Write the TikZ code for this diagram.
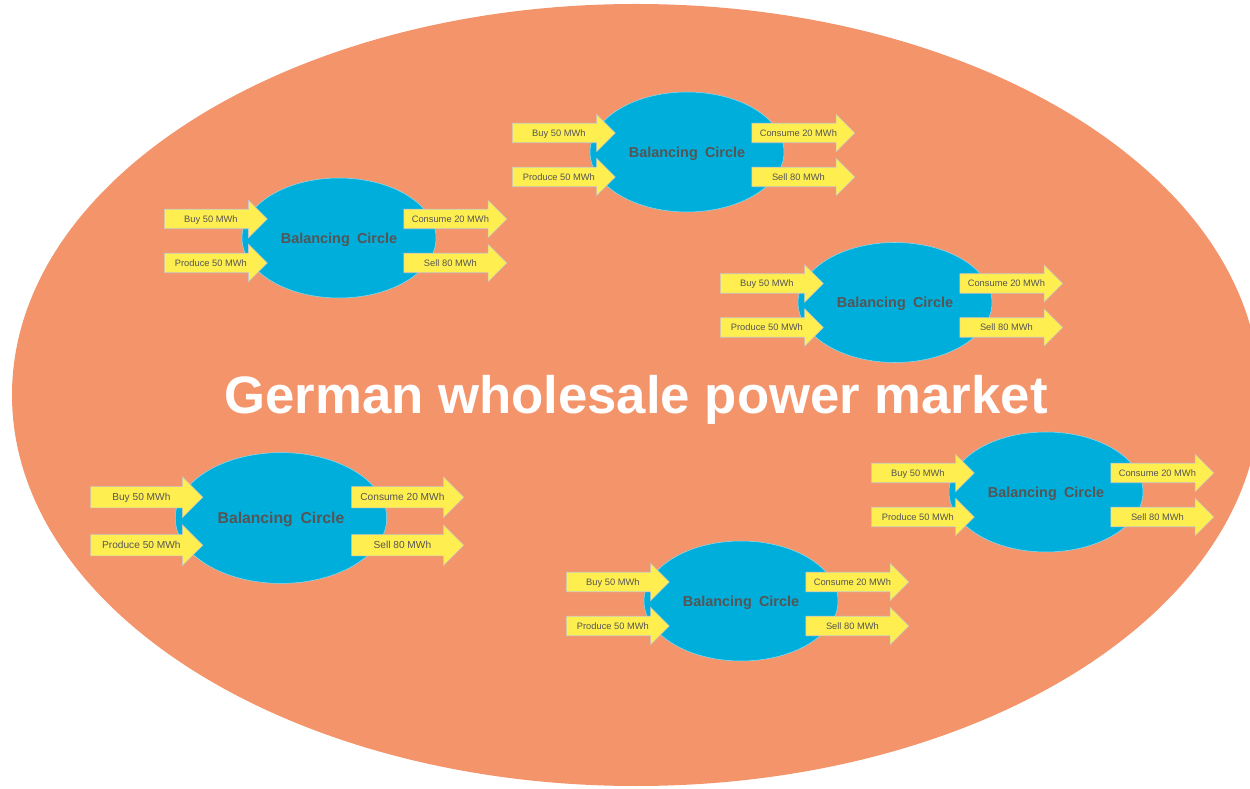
\documentclass[tikz,border=0pt]{standalone}
\usepackage{fontspec}
\setmainfont{Liberation Sans}
\newfontfamily\spacedfont[WordSpace=1.8]{Liberation Sans}
\usetikzlibrary{shapes.geometric,shapes.arrows}

\definecolor{marketOrange}{RGB}{244,148,106}
\definecolor{circleBlue}{RGB}{0,174,219}
\definecolor{flowYellow}{RGB}{255,238,80}
\definecolor{labelGray}{RGB}{85,85,85}

\begin{document}
\begin{tikzpicture}
\tikzset{
    gmMarket/.style={ellipse,fill=marketOrange,minimum width=24.96cm,minimum height=15.64cm,inner sep=0pt,text=white,font=\fontsize{30}{30}\bfseries\selectfont,text height=21.5pt,text depth=0pt},
    gmCircle/.style={ellipse,fill=circleBlue,draw=white!55!circleBlue,line width=0.3pt,minimum width=3.88cm,minimum height=2.4cm,inner sep=0pt,text=labelGray,font=\spacedfont\fontsize{8.2}{8.2}\bfseries\selectfont,text height=5.9pt,text depth=0pt},
    gmFlow/.style={single arrow,fill=flowYellow,draw=gray!45,line width=0.3pt,minimum height=2.06cm,minimum width=0.74cm,single arrow head extend=0.18cm,inner xsep=0.5pt,inner ysep=3.5pt,anchor=tail,text=labelGray,font=\fontsize{5.3}{5.3}\selectfont,text height=3.8pt,text depth=0pt},
}
\useasboundingbox (0,0) rectangle (25,15.76);
\node[gmMarket] (market) at (12.72,7.86) {German wholesale power market};

% top
\begin{scope}[shift={(13.74,12.72)}]
\node[gmCircle] (bc1) at (0,0) {Balancing Circle};
\node[gmFlow] (buy1) at (-3.5,0.38) {Buy 50 MWh};
\node[gmFlow] (prod1) at (-3.5,-0.5) {Produce 50 MWh};
\node[gmFlow] (cons1) at (1.29,0.38) {Consume 20 MWh};
\node[gmFlow] (sell1) at (1.29,-0.5) {Sell 80 MWh};
\end{scope}

% upper left
\begin{scope}[shift={(6.78,11.0)}]
\node[gmCircle] (bc2) at (0,0) {Balancing Circle};
\node[gmFlow] (buy2) at (-3.5,0.38) {Buy 50 MWh};
\node[gmFlow] (prod2) at (-3.5,-0.5) {Produce 50 MWh};
\node[gmFlow] (cons2) at (1.29,0.38) {Consume 20 MWh};
\node[gmFlow] (sell2) at (1.29,-0.5) {Sell 80 MWh};
\end{scope}

% right
\begin{scope}[shift={(17.9,9.71)}]
\node[gmCircle] (bc3) at (0,0) {Balancing Circle};
\node[gmFlow] (buy3) at (-3.5,0.38) {Buy 50 MWh};
\node[gmFlow] (prod3) at (-3.5,-0.5) {Produce 50 MWh};
\node[gmFlow] (cons3) at (1.29,0.38) {Consume 20 MWh};
\node[gmFlow] (sell3) at (1.29,-0.5) {Sell 80 MWh};
\end{scope}

% lower left, a bit larger
\begin{scope}[shift={(5.62,5.40)},scale=1.09,transform shape]
\node[gmCircle] (bc4) at (0,0) {Balancing Circle};
\node[gmFlow] (buy4) at (-3.5,0.38) {Buy 50 MWh};
\node[gmFlow] (prod4) at (-3.5,-0.5) {Produce 50 MWh};
\node[gmFlow] (cons4) at (1.29,0.38) {Consume 20 MWh};
\node[gmFlow] (sell4) at (1.29,-0.5) {Sell 80 MWh};
\end{scope}

% lower right
\begin{scope}[shift={(20.92,5.92)}]
\node[gmCircle] (bc5) at (0,0) {Balancing Circle};
\node[gmFlow] (buy5) at (-3.5,0.38) {Buy 50 MWh};
\node[gmFlow] (prod5) at (-3.5,-0.5) {Produce 50 MWh};
\node[gmFlow] (cons5) at (1.29,0.38) {Consume 20 MWh};
\node[gmFlow] (sell5) at (1.29,-0.5) {Sell 80 MWh};
\end{scope}

% bottom
\begin{scope}[shift={(14.82,3.74)}]
\node[gmCircle] (bc6) at (0,0) {Balancing Circle};
\node[gmFlow] (buy6) at (-3.5,0.38) {Buy 50 MWh};
\node[gmFlow] (prod6) at (-3.5,-0.5) {Produce 50 MWh};
\node[gmFlow] (cons6) at (1.29,0.38) {Consume 20 MWh};
\node[gmFlow] (sell6) at (1.29,-0.5) {Sell 80 MWh};
\end{scope}
\end{tikzpicture}
\end{document}
